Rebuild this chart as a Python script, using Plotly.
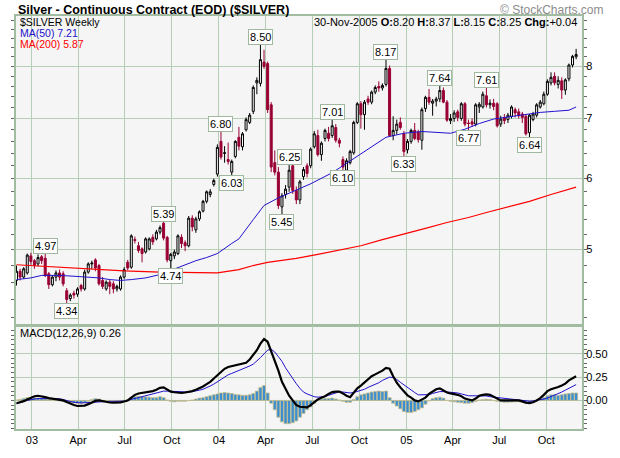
import numpy as np
import pandas as pd
import plotly.graph_objects as go

# weekly bars, Dec 2002 - Nov 2005 (bars plotted at the start of each week)
weeks = pd.date_range("2002-12-02", periods=157, freq="7D")
last_date = "30-Nov-2005"

opens = [4.62, 4.73, 4.66, 4.71, 4.92, 4.86, 4.82, 4.91, 4.89, 4.70,
         4.57, 4.66, 4.71, 4.70, 4.50, 4.41, 4.47, 4.46, 4.56, 4.52,
         4.72, 4.82, 4.87, 4.80, 4.62, 4.52, 4.60, 4.58, 4.52, 4.52,
         4.66, 4.84, 4.78, 5.13, 5.05, 5.01, 4.97, 5.01, 5.16, 5.14,
         5.23, 5.35, 5.16, 4.86, 4.92, 4.95, 5.16, 5.09, 5.05, 5.42,
         5.26, 5.41, 5.52, 5.66, 5.76, 5.91, 6.07, 6.60, 6.40, 6.30,
         6.10, 6.35, 6.67, 6.51, 6.80, 6.93, 7.13, 7.67, 7.66, 8.09,
         8.06, 7.25, 6.25, 6.10, 5.58, 5.76, 5.87, 6.20, 5.82, 5.68,
         6.03, 6.20, 6.20, 6.51, 6.70, 6.38, 6.65, 6.74, 6.70, 6.84,
         6.62, 6.30, 6.13, 6.25, 6.41, 6.93, 7.27, 7.07, 7.36, 7.30,
         7.49, 7.60, 7.57, 7.64, 7.96, 6.70, 6.79, 6.93, 6.73, 6.46,
         6.60, 6.79, 6.76, 6.62, 7.18, 7.39, 7.28, 7.32, 7.36, 7.52,
         7.30, 6.96, 7.00, 7.12, 7.00, 7.27, 6.92, 6.94, 6.90, 7.21,
         7.21, 7.42, 7.25, 7.28, 7.27, 6.90, 7.02, 6.98, 7.04, 7.16,
         7.12, 7.08, 7.04, 6.75, 6.98, 7.06, 7.21, 7.27, 7.45, 7.67,
         7.80, 7.64, 7.71, 7.53, 7.75, 8.03, 8.20]
highs = [4.80, 4.76, 4.78, 4.95, 4.96, 4.88, 4.94, 4.93, 4.97, 4.72,
         4.68, 4.74, 4.75, 4.73, 4.53, 4.47, 4.50, 4.54, 4.58, 4.75,
         4.84, 4.86, 4.89, 4.82, 4.66, 4.62, 4.63, 4.61, 4.57, 4.68,
         4.78, 4.87, 5.20, 5.17, 5.10, 5.03, 5.16, 5.16, 5.20, 5.26,
         5.32, 5.39, 5.18, 4.96, 5.00, 5.20, 5.20, 5.12, 5.45, 5.46,
         5.44, 5.53, 5.68, 5.82, 5.84, 6.00, 6.55, 6.80, 6.52, 6.58,
         6.30, 6.62, 6.85, 6.76, 7.02, 7.10, 7.62, 7.78, 8.50, 8.35,
         8.10, 7.30, 6.45, 6.18, 5.78, 5.90, 6.25, 6.25, 5.88, 5.98,
         6.18, 6.24, 6.50, 6.78, 6.80, 6.60, 6.82, 6.85, 7.01, 6.90,
         6.66, 6.35, 6.32, 6.46, 6.96, 7.30, 7.32, 7.34, 7.42, 7.52,
         7.62, 7.70, 7.66, 8.17, 8.02, 7.04, 6.98, 7.02, 6.78, 6.64,
         6.82, 6.92, 6.80, 7.20, 7.42, 7.55, 7.36, 7.40, 7.64, 7.58,
         7.34, 7.08, 7.15, 7.16, 7.30, 7.30, 6.98, 7.00, 7.28, 7.30,
         7.50, 7.61, 7.35, 7.36, 7.30, 7.05, 7.08, 7.10, 7.24, 7.20,
         7.18, 7.12, 7.08, 7.08, 7.12, 7.28, 7.34, 7.50, 7.74, 7.88,
         7.88, 7.80, 7.78, 7.76, 8.06, 8.24, 8.37]
lows = [4.56, 4.62, 4.64, 4.69, 4.81, 4.76, 4.79, 4.82, 4.66, 4.52,
        4.55, 4.61, 4.62, 4.55, 4.34, 4.38, 4.41, 4.43, 4.49, 4.50,
        4.70, 4.76, 4.73, 4.56, 4.52, 4.50, 4.46, 4.47, 4.49, 4.50,
        4.64, 4.74, 4.76, 5.08, 4.96, 4.84, 4.95, 4.99, 5.06, 5.12,
        5.20, 5.12, 4.84, 4.74, 4.88, 4.93, 5.02, 4.98, 5.03, 5.24,
        5.22, 5.38, 5.50, 5.63, 5.72, 5.88, 6.03, 6.30, 6.25, 6.22,
        6.03, 6.32, 6.45, 6.45, 6.77, 6.90, 7.08, 7.45, 7.60, 7.95,
        7.10, 6.10, 6.05, 5.55, 5.45, 5.70, 5.80, 5.77, 5.62, 5.62,
        5.98, 6.02, 6.16, 6.48, 6.35, 6.28, 6.60, 6.60, 6.66, 6.58,
        6.50, 6.10, 6.11, 6.22, 6.38, 6.90, 6.82, 6.80, 7.25, 7.26,
        7.45, 7.50, 7.52, 7.60, 6.68, 6.62, 6.72, 6.80, 6.33, 6.40,
        6.56, 6.62, 6.58, 6.46, 7.12, 7.25, 7.05, 7.22, 7.30, 7.28,
        6.94, 6.90, 6.94, 6.95, 6.96, 6.86, 6.77, 6.85, 6.86, 7.10,
        7.18, 7.20, 7.18, 7.15, 6.84, 6.85, 6.90, 6.92, 7.00, 7.02,
        7.00, 6.92, 6.70, 6.64, 6.95, 7.02, 7.18, 7.24, 7.42, 7.62,
        7.62, 7.56, 7.36, 7.44, 7.70, 7.98, 8.15]
closes = [4.73, 4.66, 4.76, 4.93, 4.85, 4.80, 4.90, 4.86, 4.68, 4.57,
          4.66, 4.71, 4.66, 4.58, 4.40, 4.45, 4.45, 4.52, 4.52, 4.72,
          4.82, 4.83, 4.77, 4.58, 4.55, 4.60, 4.55, 4.52, 4.55, 4.66,
          4.75, 4.77, 5.18, 5.12, 4.99, 4.95, 5.14, 5.14, 5.10, 5.23,
          5.29, 5.15, 4.87, 4.94, 4.97, 5.18, 5.08, 5.05, 5.42, 5.30,
          5.41, 5.51, 5.66, 5.80, 5.80, 5.97, 6.50, 6.34, 6.41, 6.27,
          6.27, 6.60, 6.52, 6.73, 6.98, 7.06, 7.58, 7.72, 8.14, 8.00,
          7.16, 6.18, 6.10, 5.60, 5.74, 5.84, 6.13, 5.82, 5.68, 5.95,
          6.14, 6.08, 6.47, 6.73, 6.38, 6.57, 6.79, 6.65, 6.87, 6.62,
          6.57, 6.18, 6.28, 6.43, 6.93, 7.27, 7.07, 7.30, 7.30, 7.49,
          7.58, 7.57, 7.62, 7.96, 6.70, 6.79, 6.90, 6.84, 6.43, 6.60,
          6.79, 6.65, 6.63, 7.16, 7.39, 7.30, 7.32, 7.36, 7.52, 7.30,
          6.97, 7.00, 7.10, 7.02, 7.27, 6.90, 6.91, 6.90, 7.25, 7.26,
          7.45, 7.25, 7.28, 7.22, 6.87, 6.99, 6.96, 7.06, 7.21, 7.10,
          7.05, 7.02, 6.73, 7.06, 7.08, 7.25, 7.30, 7.45, 7.70, 7.78,
          7.67, 7.72, 7.53, 7.73, 8.03, 8.21, 8.25]

# moving averages (week index, value)
ma50_wk = [0, 4, 7, 12, 16, 20, 23, 26, 29, 32, 36, 40, 43, 47, 50, 53, 56, 60, 62,
           66, 69, 73, 77, 82, 88, 93, 98, 103, 108, 113, 118, 121, 125, 129, 133,
           138, 142, 146, 150, 154, 156]
ma50 = [4.63, 4.65, 4.68, 4.68, 4.67, 4.66, 4.65, 4.63, 4.62, 4.63, 4.65, 4.69, 4.74,
        4.80, 4.86, 4.90, 4.95, 5.08, 5.14, 5.40, 5.60, 5.71, 5.80, 5.92, 6.09, 6.27,
        6.47, 6.67, 6.74, 6.77, 6.75, 6.74, 6.81, 6.91, 6.99, 7.04, 7.07, 7.11, 7.13,
        7.15, 7.21]
ma200_wk = [0, 10, 20, 30, 40, 50, 56, 62, 66, 70, 78, 84, 90, 96, 102, 108, 114,
            120, 126, 131, 137, 143, 149, 156]
ma200 = [4.81, 4.785, 4.755, 4.735, 4.72, 4.71, 4.71, 4.75, 4.80, 4.84, 4.89, 4.94,
         4.99, 5.05, 5.13, 5.20, 5.28, 5.36, 5.43, 5.50, 5.58, 5.66, 5.76, 5.87]

macd = [-0.03, -0.02, -0.008, 0.01, 0.03, 0.045, 0.05, 0.045, 0.035, 0.025,
        0.02, 0.017, 0.012, 0.0, -0.018, -0.035, -0.05, -0.06, -0.06, -0.055,
        -0.04, -0.02, -0.005, 0.0, -0.01, -0.018, -0.022, -0.025, -0.024, -0.02,
        -0.012, 0.0, 0.03, 0.06, 0.075, 0.08, 0.085, 0.09, 0.1, 0.115,
        0.135, 0.14, 0.12, 0.095, 0.088, 0.08, 0.08, 0.085, 0.09, 0.1,
        0.115, 0.13, 0.15, 0.175, 0.2, 0.235, 0.27, 0.31, 0.34, 0.36,
        0.37, 0.38, 0.385, 0.395, 0.405, 0.44, 0.485, 0.54, 0.61, 0.66,
        0.63, 0.53, 0.42, 0.32, 0.2, 0.12, 0.05, 0.0, -0.05, -0.068,
        -0.075, -0.075, -0.05, -0.015, 0.01, 0.03, 0.045, 0.07, 0.09, 0.095,
        0.095, 0.075, 0.05, 0.035, 0.08, 0.13, 0.16, 0.195, 0.22, 0.26,
        0.28, 0.3, 0.32, 0.35, 0.34, 0.26, 0.19, 0.14, 0.1, 0.055,
        0.03, 0.0, -0.01, 0.01, 0.03, 0.07, 0.095, 0.12, 0.13, 0.11,
        0.085, 0.075, 0.07, 0.06, 0.045, 0.02, 0.01, 0.0, 0.02, 0.05,
        0.06, 0.065, 0.06, 0.04, 0.02, 0.0, 0.0, 0.0, 0.005, 0.005,
        0.0, -0.01, -0.025, -0.028, -0.02, 0.0, 0.025, 0.06, 0.1, 0.12,
        0.13, 0.145, 0.16, 0.18, 0.215, 0.24, 0.26]
signal = [-0.035, -0.02, -0.01, 0.0, 0.01, 0.015, 0.02, 0.02, 0.02, 0.018,
          0.017, 0.018, 0.018, 0.01, -0.005, -0.012, -0.02, -0.025, -0.027, -0.025,
          -0.022, -0.02, -0.018, -0.015, -0.012, -0.011, -0.01, -0.01, -0.01, -0.01,
          -0.007, 0.0, 0.015, 0.022, 0.03, 0.04, 0.055, 0.065, 0.075, 0.085,
          0.095, 0.1, 0.1, 0.097, 0.094, 0.092, 0.09, 0.09, 0.09, 0.095,
          0.1, 0.11, 0.12, 0.135, 0.155, 0.175, 0.2, 0.23, 0.255, 0.275,
          0.29, 0.305, 0.32, 0.335, 0.35, 0.37, 0.39, 0.42, 0.46, 0.5,
          0.54, 0.55, 0.52, 0.47, 0.42, 0.35, 0.29, 0.23, 0.18, 0.13,
          0.09, 0.07, 0.055, 0.04, 0.035, 0.037, 0.042, 0.055, 0.07, 0.085,
          0.093, 0.09, 0.085, 0.08, 0.085, 0.095, 0.105, 0.12, 0.14, 0.155,
          0.17, 0.19, 0.215, 0.235, 0.25, 0.245, 0.225, 0.195, 0.165, 0.135,
          0.11, 0.085, 0.06, 0.058, 0.058, 0.062, 0.075, 0.085, 0.095, 0.095,
          0.093, 0.092, 0.09, 0.08, 0.07, 0.06, 0.05, 0.05, 0.05, 0.05,
          0.05, 0.048, 0.04, 0.035, 0.03, 0.025, 0.02, 0.017, 0.015, 0.01,
          0.0, -0.005, -0.01, -0.008, -0.005, 0.0, 0.005, 0.015, 0.025, 0.04,
          0.06, 0.075, 0.09, 0.11, 0.13, 0.15, 0.17]
hist = [0.005, 0.01, 0.02, 0.03, 0.03, 0.028, 0.025, 0.02, 0.015, 0.01,
        0.005, 0.0, -0.005, -0.01, -0.015, -0.02, -0.025, -0.03, -0.03, -0.025,
        -0.01, 0.01, 0.02, 0.015, 0.0, -0.008, -0.012, -0.012, -0.01, -0.008,
        -0.002, 0.01, 0.03, 0.04, 0.045, 0.04, 0.038, 0.035, 0.03, 0.03,
        0.04, 0.03, 0.005, -0.01, -0.015, -0.01, -0.01, -0.008, -0.002, 0.005,
        0.015, 0.025, 0.03, 0.04, 0.05, 0.06, 0.07, 0.08, 0.085, 0.08,
        0.075, 0.065, 0.06, 0.055, 0.055, 0.06, 0.075, 0.1, 0.14, 0.16,
        0.08, -0.03, -0.1, -0.18, -0.23, -0.25, -0.25, -0.24, -0.22, -0.18,
        -0.14, -0.1, -0.07, -0.03, 0.005, 0.015, 0.02, 0.02, 0.025, 0.015,
        0.005, -0.01, -0.02, -0.02, 0.01, 0.04, 0.06, 0.07, 0.08, 0.09,
        0.095, 0.1, 0.095, 0.1, 0.03, -0.03, -0.06, -0.09, -0.12, -0.13,
        -0.13, -0.12, -0.1, -0.08, -0.04, -0.005, 0.02, 0.03, 0.035, 0.025,
        0.0, -0.01, -0.015, -0.02, -0.025, -0.03, -0.03, -0.025, -0.01, 0.005,
        0.01, 0.012, 0.01, 0.0, -0.01, -0.015, -0.02, -0.02, -0.018, -0.015,
        -0.015, -0.02, -0.03, -0.03, -0.02, -0.005, 0.01, 0.03, 0.05, 0.06,
        0.06, 0.055, 0.06, 0.07, 0.075, 0.08, 0.08]

# labelled swing highs / lows (week index)
peak_wk = [8, 41, 57, 68, 76, 88, 103, 118, 131]
trough_wk = [14, 43, 60, 74, 91, 108, 126, 143]

tick_dates = ["2003-01-01", "2003-04-01", "2003-07-01", "2003-10-01",
              "2004-01-01", "2004-04-01", "2004-07-01", "2004-10-01",
              "2005-01-01", "2005-04-01", "2005-07-01", "2005-10-01"]
tick_text = ["03", "Apr", "Jul", "Oct", "04", "Apr", "Jul", "Oct",
             "05", "Apr", "Jul", "Oct"]

FONT = "Liberation Sans, Arial, sans-serif"
GRID = "#b6cdb6"
EDGE = "#a2bca2"
MAROON = "#990033"
BLUE = "#2211cc"

fig = go.Figure()

fig.add_trace(go.Candlestick(
    x=weeks, open=opens, high=highs, low=lows, close=closes,
    increasing=dict(line=dict(color="black", width=1), fillcolor="#f7f7f7"),
    decreasing=dict(line=dict(color=MAROON, width=1), fillcolor=MAROON),
    whiskerwidth=0, showlegend=False, hoverinfo="skip", xaxis="x", yaxis="y"))

fig.add_trace(go.Scatter(x=weeks[ma50_wk], y=ma50, mode="lines",
                         line=dict(color=BLUE, width=1), xaxis="x", yaxis="y",
                         showlegend=False, hoverinfo="skip"))
fig.add_trace(go.Scatter(x=weeks[ma200_wk], y=ma200, mode="lines",
                         line=dict(color="#ff0000", width=1.2), xaxis="x", yaxis="y",
                         showlegend=False, hoverinfo="skip"))

# MACD panel
fig.add_trace(go.Bar(x=weeks, y=hist, marker=dict(color="#3b8fd0",
                     line=dict(color="#cbbf8c", width=0.8)),
                     xaxis="x2", yaxis="y2", showlegend=False, hoverinfo="skip"))
fig.add_trace(go.Scatter(x=weeks, y=signal, mode="lines",
                         line=dict(color=BLUE, width=1), xaxis="x2", yaxis="y2",
                         showlegend=False, hoverinfo="skip"))
fig.add_trace(go.Scatter(x=weeks, y=macd, mode="lines",
                         line=dict(color="black", width=2.2), xaxis="x2", yaxis="y2",
                         showlegend=False, hoverinfo="skip"))

ann = []
box = dict(showarrow=True, arrowhead=0, arrowwidth=1, arrowcolor="#9fb89f",
           bordercolor="#9fb89f", borderwidth=1, borderpad=1, bgcolor="white",
           font=dict(family=FONT, size=11, color="black"), xref="x", yref="y", ax=0)
for i in peak_wk:
    ann.append(dict(x=weeks[i], y=np.log10(highs[i]), text=f"{highs[i]:.2f}",
                    ay=-6, **box))
for i in trough_wk:
    ann.append(dict(x=weeks[i], y=np.log10(lows[i]), text=f"{lows[i]:.2f}",
                    ay=6, **box))

txt = dict(showarrow=False, xref="paper", yref="paper")
ann += [
    dict(x=0.0, y=1.0145, text="<b>Silver - Continuous Contract (EOD) ($SILVER)</b>",
         xanchor="left", yanchor="middle", **txt,
         font=dict(family=FONT, size=12.5, color="black")),
    dict(x=1.042, y=1.0145, text="© StockCharts.com", xanchor="right", yanchor="middle",
         **txt, font=dict(family=FONT, size=12, color="#8c8c8c")),
    dict(x=0.003, y=0.986, text="$SILVER Weekly", xanchor="left", yanchor="middle",
         **txt, font=dict(family=FONT, size=10.5, color="black")),
    dict(x=0.003, y=0.960, text=f"MA(50) {ma50[-1]:.2f}", xanchor="left",
         yanchor="middle", **txt, font=dict(family=FONT, size=10.5, color=BLUE)),
    dict(x=0.003, y=0.933, text=f"MA(200) {ma200[-1]:.2f}", xanchor="left",
         yanchor="middle", **txt, font=dict(family=FONT, size=10.5, color="#ff0000")),
    dict(x=0.995, y=0.986,
         text=(f"{last_date} <b>O:</b>{opens[-1]:.2f} <b>H:</b>{highs[-1]:.2f} "
               f"<b>L:</b>{lows[-1]:.2f} <b>C:</b>{closes[-1]:.2f} "
               f"<b>Chg:</b>{closes[-1] - closes[-2]:+.2f}"),
         xanchor="right", yanchor="middle", **txt,
         font=dict(family=FONT, size=11, color="black")),
    dict(x=0.003, y=0.232, text=f"MACD(12,26,9) {macd[-1]:.2f}",
         xanchor="left", yanchor="middle", **txt,
         font=dict(family=FONT, size=11, color="black")),
]

xcommon = dict(type="date", range=["2002-12-01", "2005-12-09 12:00"],
               tickmode="array", tickvals=tick_dates, ticktext=tick_text,
               showgrid=True, gridcolor=GRID, gridwidth=1,
               showline=True, linecolor=EDGE, linewidth=2, mirror=True,
               ticks="", zeroline=False,
               tickfont=dict(family=FONT, size=11, color="black"))
ycommon = dict(side="right", showgrid=True, gridcolor=GRID, gridwidth=1,
               showline=True, linecolor=EDGE, linewidth=2, mirror="allticks",
               ticks="", zeroline=False,
               tickfont=dict(family=FONT, size=11, color="black"))

fig.update_layout(
    width=620, height=458,
    margin=dict(l=16, r=32, t=16, b=16),
    paper_bgcolor="white", plot_bgcolor="#f5f5f5",
    boxgap=0.2, bargap=0.12, hovermode=False,
    xaxis=dict(xcommon, anchor="y", showticklabels=False,
               rangeslider=dict(visible=False)),
    xaxis2=dict(xcommon, anchor="y2", matches="x"),
    yaxis=dict(ycommon, type="log", domain=[0.2512, 1.0],
               range=[0.6147, 0.9593], tickmode="array", tickvals=[5, 6, 7, 8],
               minor=dict(tickmode="array",
                          tickvals=[round(v, 1) for v in np.arange(4.2, 9.01, 0.2)],
                          ticks="outside", ticklen=3, tickcolor="#666666",
                          showgrid=False)),
    yaxis2=dict(ycommon, domain=[0.0, 0.2488], range=[-0.307, 0.797],
                tickmode="array", tickvals=[0, 0.25, 0.5],
                ticktext=["0.00", "0.25", "0.50"],
                minor=dict(tickmode="array",
                           tickvals=[round(v, 2) for v in np.arange(-0.3, 0.8, 0.05)],
                           ticks="outside", ticklen=3, tickcolor="#666666",
                           showgrid=False)),
    annotations=ann,
    showlegend=False,
)

# put the figure flush in the page corner, no scrollbars, no toolbar
page_css = ("document.documentElement.style.margin='0px';"
            "document.documentElement.style.overflow='hidden';"
            "document.body.style.margin='0px';"
            "document.body.style.overflow='hidden';")
fig.write_html("out.html", post_script=page_css,
               config={"displayModeBar": False, "staticPlot": True})
